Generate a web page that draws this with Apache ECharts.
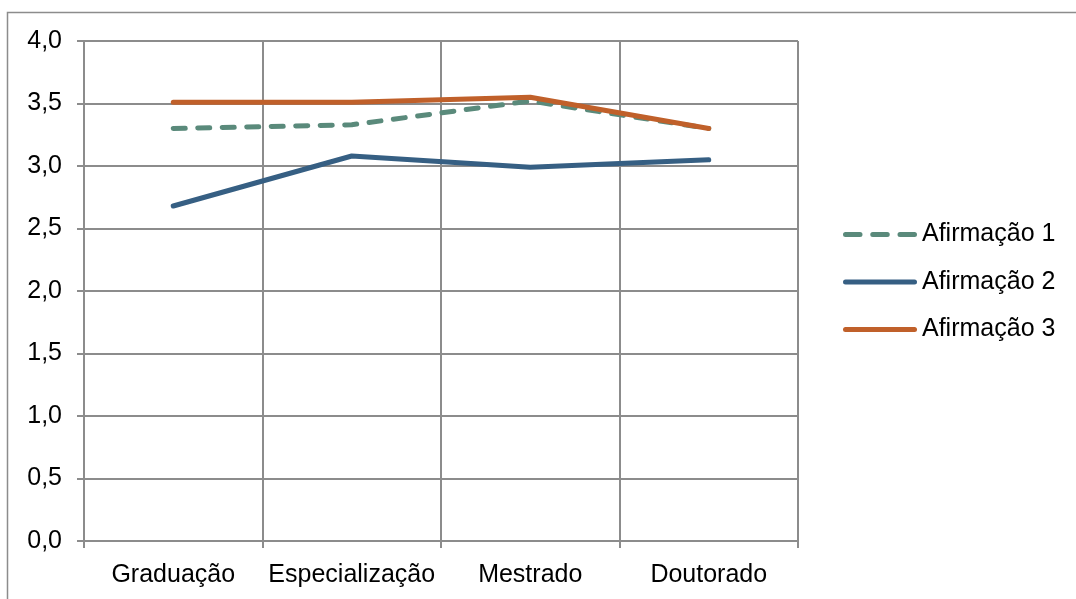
<!DOCTYPE html>
<html>
<head>
<meta charset="utf-8">
<script src="https://cdn.jsdelivr.net/npm/echarts@6/dist/echarts.min.js"></script>
<style>
  html, body { margin: 0; padding: 0; background: #fff; }
  #chart { width: 1076px; height: 599px; }
</style>
</head>
<body>
<div id="chart"></div>
<script>
// Mean score per degree level for each statement
const categories = ['Graduação', 'Especialização', 'Mestrado', 'Doutorado'];
const afirmacao1 = [3.30, 3.33, 3.52, 3.30];
const afirmacao2 = [2.68, 3.08, 2.99, 3.05];
const afirmacao3 = [3.51, 3.51, 3.55, 3.30];
const seriesNames = ['Afirmação 1', 'Afirmação 2', 'Afirmação 3'];
const yTicks = { min: 0, max: 4, step: 0.5 };

const FONT = '"Liberation Sans", Arial, sans-serif';
const GRID = '#8c8c8c';
const LINE_W = 5;

// Legend swatches: rounded bar segments, 74 x 5 units
function seg(a, b) {
  return 'M' + (a + 2.5) + ',0 H' + (b - 2.5) + ' A2.5,2.5 0 0 1 ' + (b - 2.5) + ',5 H' + (a + 2.5) +
         ' A2.5,2.5 0 0 1 ' + (a + 2.5) + ',0 Z ';
}
const ICON_SOLID = 'path://' + seg(0, 74);
const ICON_DASHED = 'path://' + seg(0, 19.5) + seg(27.25, 46.75) + seg(54.5, 74);

const chart = echarts.init(document.getElementById('chart'), null, { renderer: 'canvas' });

function line(name, data, color, dashed) {
  return {
    name: name,
    type: 'line',
    data: data,
    symbol: 'none',
    smooth: false,
    lineStyle: {
      color: color,
      width: LINE_W,
      type: dashed ? [12, 12.5] : 'solid',
      cap: 'round',
      join: 'round'
    },
    itemStyle: { color: color },
    emphasis: { disabled: true }
  };
}

chart.setOption({
  animation: false,
  backgroundColor: '#ffffff',
  textStyle: { fontFamily: FONT },
  graphic: [{
    type: 'rect',
    shape: { x: 7.5, y: 12.5, width: 1200, height: 700 },
    style: { fill: 'none', stroke: GRID, lineWidth: 1.5 },
    silent: true,
    z: -10
  }],
  grid: { left: 84, right: 278, top: 41, bottom: 58, containLabel: false },
  legend: {
    orient: 'vertical',
    left: 843,
    top: 222,
    padding: 0,
    itemWidth: 74,
    itemHeight: 25,
    itemGap: 22.5,
    symbolKeepAspect: true,
    textStyle: { fontFamily: FONT, fontSize: 25, color: '#000' },
    data: [
      { name: seriesNames[0], icon: ICON_DASHED },
      { name: seriesNames[1], icon: ICON_SOLID },
      { name: seriesNames[2], icon: ICON_SOLID }
    ],
    selectedMode: false
  },
  xAxis: {
    type: 'category',
    data: categories,
    boundaryGap: true,
    axisLine: { show: true, lineStyle: { color: GRID, width: 2 } },
    axisTick: { show: true, interval: 0, length: 7, inside: false, lineStyle: { color: GRID, width: 2 } },
    axisLabel: { interval: 0, fontFamily: FONT, fontSize: 25, color: '#000', margin: 22 },
    splitLine: { show: true, interval: 0, lineStyle: { color: GRID, width: 2 } }
  },
  yAxis: {
    type: 'value',
    min: yTicks.min,
    max: yTicks.max,
    interval: yTicks.step,
    axisLine: { show: true, lineStyle: { color: GRID, width: 2 } },
    axisTick: { show: true, length: 7, lineStyle: { color: GRID, width: 2 } },
    axisLabel: {
      fontFamily: FONT, fontSize: 25, color: '#000', margin: 22,
      formatter: v => v.toFixed(1).replace('.', ',')
    },
    splitLine: { show: true, lineStyle: { color: GRID, width: 2 } }
  },
  series: [
    line(seriesNames[0], afirmacao1, '#5a8a7b', true),
    line(seriesNames[1], afirmacao2, '#365f83', false),
    line(seriesNames[2], afirmacao3, '#c0602a', false)
  ]
});
</script>
</body>
</html>
